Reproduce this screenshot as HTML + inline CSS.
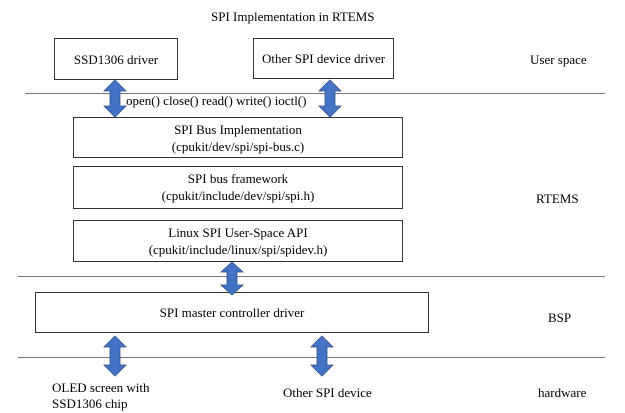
<!DOCTYPE html>
<html><head><style>
body{margin:0;width:625px;height:413px;background:#fff;position:relative;font-family:"Liberation Serif",serif;color:#000;overflow:hidden}
.t{position:absolute;font-size:13px;white-space:nowrap;line-height:16px}
.b{position:absolute;border:1px solid #333;box-sizing:border-box;text-align:center;font-size:13px;line-height:17px}
.l{position:absolute;height:1px;background:#777}
svg{position:absolute;left:0;top:0}
</style></head><body>
<div class="t" style="left:211px;top:9px">SPI Implementation in RTEMS</div>
<div class="b" style="left:54px;top:38px;width:124px;height:42px;padding-top:12px">SSD1306 driver</div>
<div class="b" style="left:253px;top:38px;width:141px;height:41px;padding-top:11px">Other SPI device driver</div>
<div class="l" style="left:25px;top:93px;width:580px"></div>
<div class="l" style="left:18px;top:276px;width:587px"></div>
<div class="l" style="left:18px;top:357px;width:587px"></div>
<div class="t" style="left:126px;top:93px">open() close() read() write() ioctl()</div>
<div class="b" style="left:73px;top:117px;width:330px;height:41px;padding-top:3px">SPI Bus Implementation<br>(cpukit/dev/spi/spi-bus.c)</div>
<div class="b" style="left:73px;top:166px;width:330px;height:43px;padding-top:3px">SPI bus framework<br>(cpukit/include/dev/spi/spi.h)</div>
<div class="b" style="left:73px;top:220px;width:330px;height:42px;padding-top:3px">Linux SPI User-Space API<br>(cpukit/include/linux/spi/spidev.h)</div>
<div class="b" style="left:35px;top:292px;width:394px;height:41px;padding-top:11px">SPI master controller driver</div>
<div class="t" style="left:530px;top:52px">User space</div>
<div class="t" style="left:536px;top:191px">RTEMS</div>
<div class="t" style="left:548px;top:310px">BSP</div>
<div class="t" style="left:538px;top:385px">hardware</div>
<div class="t" style="left:52px;top:380px">OLED screen with<br>SSD1306 chip</div>
<div class="t" style="left:283px;top:385px">Other SPI device</div>
<svg width="625" height="413">
<g fill="#4472c4" stroke="#2f528f" stroke-width="0.8">
<path d="M115,80 L126,91 L120,91 L120,106 L126,106 L115,117 L104,106 L110,106 L110,91 L104,91 Z"/>
<path d="M330,80 L341,91 L335,91 L335,106 L341,106 L330,117 L319,106 L325,106 L325,91 L319,91 Z"/>
<path d="M232,262 L243,272 L237,272 L237,285 L243,285 L232,295 L221,285 L227,285 L227,272 L221,272 Z"/>
<path d="M115,336 L126,347 L120,347 L120,365 L126,365 L115,376 L104,365 L110,365 L110,347 L104,347 Z"/>
<path d="M322,336 L333,347 L327,347 L327,365 L333,365 L322,376 L311,365 L317,365 L317,347 L311,347 Z"/>
</g></svg>
</body></html>
